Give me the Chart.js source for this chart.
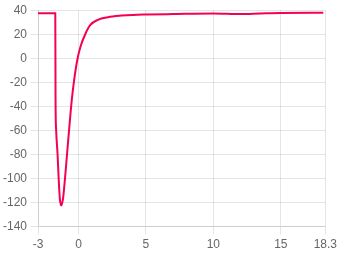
<!DOCTYPE html>
<html>
<head>
<meta charset="utf-8">
<script src="https://cdn.jsdelivr.net/npm/chart.js@4/dist/chart.umd.min.js"></script>
<style>
  html, body { margin: 0; padding: 0; background: #fff; }
  #wrap { width: 340px; height: 255px; }
</style>
</head>
<body>
<div id="wrap"><canvas id="chart"></canvas></div>
<script>
// time (ms) and membrane potential (mV)
const times = [-3, -1.72, -1.7, -1.655, -1.55, -1.47, -1.38, -1.28, -1.15, -1.0, -0.85,
    -0.7, -0.5, -0.32, -0.1, 0.13, 0.5, 0.88, 1.43, 2.18, 3.19, 4.04, 5, 7, 10, 12, 13.5, 15, 18.15];
const potential = [37.5, 37.5, -35, -60, -80, -100, -117, -122.5, -117, -100, -80,
    -60, -35, -18, -2, 9, 20, 27.7, 32, 34.2, 35.5, 36.1, 36.4, 36.8, 37.3, 36.8, 37.3, 37.7, 37.8];
const xTicks = [-3, 0, 5, 10, 15, 18.3];

const points = times.map((t, i) => ({ x: t, y: potential[i] }));

new Chart(document.getElementById('chart'), {
    type: 'line',
    data: {
        datasets: [{
            data: points,
            borderColor: '#f50057',
            borderWidth: 2,
            pointRadius: 0,
            cubicInterpolationMode: 'monotone',
            fill: false
        }]
    },
    options: {
        responsive: true,
        maintainAspectRatio: false,
        animation: false,
        layout: { padding: { top: 4 } },
        plugins: {
            legend: { display: false },
            tooltip: { enabled: false }
        },
        scales: {
            x: {
                type: 'linear',
                min: -3,
                max: 18.3,
                afterBuildTicks: axis => {
                    axis.ticks = xTicks.map(v => ({ value: v }));
                },
                ticks: {
                    color: '#666',
                    font: { size: 12 },
                    maxRotation: 0,
                    callback: v => String(v)
                }
            },
            y: {
                min: -140,
                max: 40,
                ticks: { stepSize: 20, color: '#666', font: { size: 12 } }
            }
        }
    }
});
</script>
</body>
</html>
